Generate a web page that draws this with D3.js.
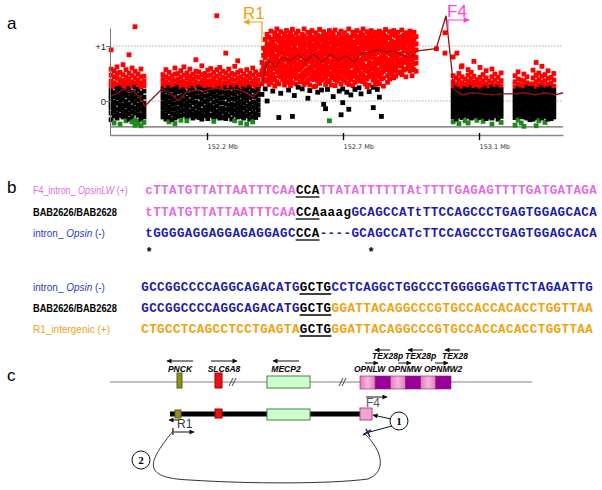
<!DOCTYPE html>
<html lang="en">
<head>
<meta charset="UTF-8">
<title>breakpoint figure</title>
<script src="https://cdn.jsdelivr.net/npm/d3@7"></script>
<style>
    body{ margin:0; background:#fff; }
    svg{ display:block; font-family: Arial, "Liberation Sans", sans-serif; }
    .seq{ font-family: "Liberation Mono", "Courier New", monospace; font-weight:bold; font-size:12.5px; }
    .gene{ font-size:8.5px; font-weight:bold; font-style:italic; }
</style>
</head>
<body>
<svg id="fig" width="602" height="490"></svg>
<script>
// ---------- panel a data ----------
const tickMb = [152.2, 152.7, 153.1];
const yTicks = [0, 1];
// [position (Mb), log2 ratios x100 of the probes at that position]
const probes1 = [
  [151.847,[93,58,47,36,28,19,11,4,-5,-13,-22,-34]],
  [151.858,[55,44,33,26,15,8,-2,-10,-18,-27,-40]],
  [151.869,[62,50,41,30,22,13,6,-4,-15,-24,-31]],
  [151.880,[52,39,31,24,17,9,1,-8,-16,-26,-42]],
  [151.891,[66,48,37,29,20,12,3,-7,-12,-21,-29]],
  [151.902,[57,43,34,27,18,10,-1,-9,-19,-28,-36]],
  [151.913,[84,51,40,31,23,14,5,-6,-14,-23,-33]],
  [151.924,[60,46,35,27,16,8,0,-11,-20,-30,-38]],
  [151.935,[135,54,42,32,25,15,6,-3,-13,-22,-35,-44]],
  [151.946,[49,38,30,21,11,2,-8,-17,-26,-37,-41]],
  [151.957,[58,44,33,26,14,4,-6,-15,-25,-33,-45]],
  [151.968,[45,36,28,18,7,-4,-13,-21,-29,-39]]
];
const probes2 = [
  [152.038,[48,39,30,22,13,5,-4,-12,-21,-29]],
  [152.049,[57,44,35,27,19,9,1,-8,-17,-26,-33]],
  [152.060,[52,41,31,24,16,7,-2,-11,-19,-30,-38]],
  [152.071,[46,37,28,20,10,3,-6,-15,-24,-34]],
  [152.082,[60,49,38,29,22,14,4,-5,-14,-23,-31,-41]],
  [152.093,[50,40,32,25,17,6,-3,-13,-22,-28]],
  [152.104,[55,43,34,26,18,8,-1,-9,-18,-27,-35]],
  [152.115,[62,47,36,28,21,12,2,-7,-16,-25]],
  [152.126,[51,42,33,26,15,5,-4,-12,-21,-29,-36]],
  [152.137,[58,45,37,29,20,11,0,-9,-19,-26]],
  [152.148,[49,40,31,23,14,6,-3,-14,-23,-31]],
  [152.159,[75,54,44,35,27,17,8,-2,-10,-20,-28]],
  [152.170,[53,43,32,25,16,7,-5,-13,-22,-30]],
  [152.181,[64,48,38,30,22,12,3,-6,-17,-25,-33]],
  [152.192,[50,41,33,27,19,9,-1,-11,-18,-27]],
  [152.203,[56,46,36,28,20,10,1,-8,-16,-24,-32]],
  [152.214,[59,47,37,30,21,13,4,-7,-15,-26]],
  [152.225,[52,42,34,26,17,8,-2,-12,-21,-29,-37]],
  [152.236,[155,57,45,35,27,18,9,0,-9,-19,-28]],
  [152.247,[61,49,39,31,23,14,5,-4,-14,-23,-31]],
  [152.258,[54,43,33,26,16,6,-3,-13,-20,-30]],
  [152.269,[87,51,41,32,24,15,7,-5,-15,-24,-32]],
  [152.280,[58,46,36,28,19,11,2,-8,-17,-27]],
  [152.291,[50,40,31,24,14,4,-6,-14,-22,-33]],
  [152.302,[63,48,38,29,21,12,3,-7,-16,-25,-36]],
  [152.313,[73,52,42,33,25,16,6,-3,-12,-21,-29]],
  [152.324,[55,44,35,27,18,9,-1,-10,-19,-28,-40]],
  [152.335,[49,39,30,22,13,5,-4,-13,-23,-31]],
  [152.346,[57,45,36,28,20,10,1,-9,-18,-27,-42]],
  [152.357,[51,42,32,25,15,6,-5,-14,-24,-33]],
  [152.368,[60,47,37,29,19,8,-2,-11,-20,-29,-38]],
  [152.379,[53,41,33,26,17,7,-3,-12,-22,-30]],
  [152.388,[48,38,29,21,12,2,-7,-16,-25]]
];
const probes3 = [
  [152.402,[70,55,47,31,12]],
  [152.408,[96,83,66,58,40]],
  [152.414,[112,90,79,63,49,36,22]],
  [152.421,[121,104,99,84,69,64,51,38,0]],
  [152.428,[116,97,88,73,57,45,30]],
  [152.435,[127,112,103,91,80,62,54,41,33]],
  [152.442,[108,95,86,74,66,48,39,18]],
  [152.449,[124,117,101,93,79,71,59,42,27]],
  [152.457,[131,112,98,82,76,60,53,35]],
  [152.464,[119,109,92,85,68,57,46,31,-30]],
  [152.471,[126,114,104,96,87,73,62,50,44,14]],
  [152.478,[110,99,90,78,65,55,39]],
  [152.485,[122,116,101,83,74,61,48,36,29]],
  [152.492,[128,107,95,89,77,64,52,43]],
  [152.500,[118,111,100,86,70,58,47,34,20]],
  [152.507,[125,104,94,81,75,63,51,40,28]],
  [152.514,[130,117,108,92,84,69,56,45,33,-28]],
  [152.521,[113,102,97,80,72,60,48,10]],
  [152.528,[123,110,93,87,76,67,53,41,31]],
  [152.535,[127,115,105,90,79,65,57,44,25]],
  [152.543,[109,99,88,83,71,59,46,35]],
  [152.550,[121,112,103,94,82,70,62,50,38,22]],
  [152.557,[131,118,106,97,85,74,66,52,43,30]],
  [152.564,[114,101,91,78,68,55,47,33]],
  [152.571,[125,113,104,89,80,72,58,49,37,5]],
  [152.578,[120,108,96,87,75,61,54,40,29,19]],
  [152.586,[128,116,100,92,83,69,57,45]],
  [152.593,[111,102,94,81,73,63,50,39,26]],
  [152.600,[124,115,107,95,86,76,64,53,42,27]],
  [152.607,[119,105,98,84,70,60,47,36,16]],
  [152.614,[130,117,109,99,88,79,66,55,44,32]],
  [152.621,[112,100,93,81,72,58,49,38,20]],
  [152.629,[126,118,103,96,85,74,63,51,40,-6]],
  [152.636,[121,110,101,89,77,67,56,44,30,-14]],
  [152.643,[115,104,97,86,75,61,52,35,21]],
  [152.650,[128,119,106,94,83,71,60,48,37,-36]],
  [152.657,[117,108,96,88,73,64,50,42,29]],
  [152.664,[124,113,100,91,81,69,58,45,8]],
  [152.671,[129,116,105,97,86,77,65,54,39,28]],
  [152.678,[113,102,92,80,70,61,47,36]],
  [152.686,[122,111,104,93,84,72,63,52,41,18]],
  [152.693,[127,117,108,98,89,78,67,55,44,31,-25]],
  [152.699,[115,106,95,85,76,64,53,40,22,-3]],
  [152.705,[124,109,103,90,83,70,61,49,37]],
  [152.711,[119,111,97,88,77,69,55,46,33,16]],
  [152.717,[131,116,104,99,85,78,62,53,42,30,-15]],
  [152.723,[112,104,92,86,71,64,50,39,11]],
  [152.729,[125,118,101,95,82,74,67,52,45,28]],
  [152.735,[120,107,100,87,80,66,57,48,34,21]],
  [152.741,[128,114,106,94,84,72,61,54,41]],
  [152.747,[117,110,96,90,75,70,56,44,36,24]],
  [152.753,[124,115,102,93,87,73,65,50,39,13]],
  [152.759,[131,120,108,98,91,79,68,60,47,35]],
  [152.765,[116,104,97,83,77,62,56,43,31]],
  [152.771,[126,112,105,95,82,76,63,54,40,26]],
  [152.777,[121,116,99,92,84,71,66,51,44,29,17]],
  [152.783,[128,113,107,96,88,80,69,58,46]],
  [152.789,[119,108,101,86,79,67,61,49,38,25,-12]],
  [152.795,[125,117,103,94,85,74,64,55,42,30]],
  [152.801,[114,107,98,88,76,70,57,47,35,21]],
  [152.807,[127,119,106,95,89,77,68,53,45,31,7]],
  [152.813,[120,110,99,93,80,72,62,51,40,-28]],
  [152.819,[124,113,105,91,83,74,66,54,42,27]],
  [152.825,[130,118,109,97,87,78,64,57]],
  [152.831,[115,104,96,89,75,67,59,46,34]],
  [152.837,[126,116,101,94,86,73,65,52,40]],
  [152.843,[121,109,102,88,81,71,60,49]],
  [152.849,[128,120,107,96,84,77,63,55,42]],
  [152.855,[118,106,100,90,78,68,57,45]],
  [152.861,[125,114,103,95,83,72,64,51]],
  [152.867,[116,108,97,85,74,67,53]],
  [152.873,[129,117,106,98,86,76,63,48]],
  [152.879,[120,111,99,91,78,70,56]],
  [152.885,[124,113,104,92,80,71,58,44]],
  [152.891,[119,108,95,86,73,64]],
  [152.897,[127,115,102,90,79,66,55]],
  [152.903,[121,110,98,84,75,61,46]],
  [152.909,[125,112,103,92,81,68,57]],
  [152.915,[117,104,93,79,69,54]]
];
const probes4 = [
  [153.024,[80,46,35,27,19,11,3,-5,-13,-21,-29,-38]],
  [153.033,[42,31,24,16,8,0,-8,-16,-24,-33]],
  [153.041,[50,38,29,21,13,5,-3,-11,-19,-27,-41]],
  [153.050,[64,44,33,26,18,10,2,-6,-14,-22,-30]],
  [153.059,[40,30,22,14,6,-2,-10,-18,-26,-36]],
  [153.068,[57,47,36,28,20,12,4,-4,-12,-20,-28,-40]],
  [153.077,[52,41,32,25,17,9,1,-7,-15,-23,-31]],
  [153.085,[72,45,34,27,19,11,3,-5,-13,-21,-29]],
  [153.094,[39,30,21,13,5,-3,-11,-19,-27,-35]],
  [153.103,[61,43,33,26,18,10,2,-6,-14,-22,-30]],
  [153.112,[48,37,28,20,12,4,-4,-12,-20,-28,-37]],
  [153.121,[55,42,31,24,16,8,0,-8,-16,-24,-32]],
  [153.129,[36,27,19,11,3,-5,-13,-21,-29]],
  [153.138,[58,44,33,25,17,9,1,-7,-15,-23,-31,-42]],
  [153.147,[49,38,29,21,13,5,-3,-11,-19,-27]],
  [153.156,[43,32,24,16,8,0,-8,-16,-24,-33]],
  [153.165,[51,37,28,20,12,4,-4,-12,-20,-28,-39]]
];
const probes5 = [
  [153.206,[46,35,26,18,10,2,-6,-14,-22,-30,-44]],
  [153.215,[53,40,30,22,14,6,-2,-10,-18,-26,-35]],
  [153.224,[38,28,20,12,4,-4,-12,-20,-28,-40]],
  [153.232,[49,36,27,19,11,3,-5,-13,-21,-29,-46]],
  [153.241,[44,33,25,17,9,1,-7,-15,-23,-31]],
  [153.250,[31,23,15,7,-1,-9,-17,-25,-34]],
  [153.259,[56,42,31,23,15,7,-1,-9,-17,-25,-33]],
  [153.268,[70,47,35,26,18,10,2,-6,-14,-22,-30,-45]],
  [153.276,[51,39,29,21,13,5,-3,-11,-19,-27,-36]],
  [153.285,[63,45,34,25,17,9,1,-7,-15,-23,-31]],
  [153.294,[48,37,28,20,12,4,-4,-12,-20,-28,-39]],
  [153.303,[55,41,30,22,14,6,-2,-10,-18,-26,-33]],
  [153.312,[43,32,24,16,8,0,-8,-16,-24,-32]],
  [153.320,[50,38,27,19,11,3,-5,-13,-21,-29]]
];
const outliers = [[152.975,[95]], [153.000,[124,87]], [153.035,[87]], [153.048,[62]]];
// moving average (log2 ratio)
const trend = [
  [151.847,0.09],[151.872,0.15],[151.894,0.22],[151.913,0.15],[151.931,0.18],[151.953,0.05],[151.972,-0.09],
  [152.035,0.22],[152.064,0.15],[152.094,0.0],[152.123,0.16],[152.156,0.20],[152.193,0.18],[152.229,0.24],
  [152.266,0.20],[152.303,0.22],[152.340,0.16],[152.369,0.07],[152.388,0.16],[152.403,0.35],[152.417,0.64],
  [152.432,0.71],[152.454,0.64],[152.476,0.80],[152.505,0.73],[152.535,0.84],[152.564,0.73],[152.593,0.85],
  [152.623,0.71],[152.652,0.85],[152.682,0.75],[152.709,0.82],[152.732,0.71],[152.756,0.87],[152.779,0.89],
  [152.803,0.93],[152.826,0.89],[152.850,0.91],[152.874,0.84],[152.897,0.78],[152.918,0.91],[152.974,0.95],
  [153.003,1.55],[153.026,0.22],[153.050,0.11],[153.079,0.15],[153.109,0.13],[153.138,0.11],[153.168,0.13],
  [153.206,0.13],[153.235,0.15],[153.265,0.11],[153.294,0.15],[153.324,0.11],[153.347,0.15]
];

// ---------- panel b data ----------
const rowNames1 = [["F4_intron_ ","OpsinLW"," (+)"], ["BAB2626/BAB2628"], ["intron_ ","Opsin"," (-)"]];
const rowNames2 = [["intron_ ","Opsin"," (-)"], ["BAB2626/BAB2628"], ["R1_intergenic (+)"]];
const rowKind1 = ["F4", "BAB", "opsin"];
const rowKind2 = ["opsin", "BAB", "R1"];
const seqBlock1 = [
  "cTTATGTTATTAATTTCAACCATTATATTTTTTAtTTTTGAGAGTTTTGATGATAGA",
  "tTTATGTTATTAATTTCAACCAaaagGCAGCCATtTTCCAGCCCTGAGTGGAGCACA",
  "tGGGGAGGAGGAGAGGAGCCCA----GCAGCCATcTTCCAGCCCTGAGTGGAGCACA"
];
const seqBlock2 = [
  "GCCGGCCCCAGGCAGACATGGCTGCCTCAGGCTGGCCCTGGGGGAGTTCTAGAATTG",
  "GCCGGCCCCAGGCAGACATGGCTGGGATTACAGGCCCGTGCCACCACACCTGGTTAA",
  "CTGCCTCAGCCTCCTGAGTAGCTGGGATTACAGGCCCGTGCCACCACACCTGGTTAA"
];
// origin of each stretch of bases: [length, source]
const origin1 = [
  [[19,"F4"],[3,"junction"],[35,"F4"]],
  [[19,"F4"],[7,"junction"],[31,"opsin"]],
  [[19,"opsin"],[3,"junction"],[35,"opsin"]]
];
const origin2 = [
  [[20,"opsin"],[4,"junction"],[33,"opsin"]],
  [[20,"opsin"],[4,"junction"],[33,"R1"]],
  [[20,"R1"],[4,"junction"],[33,"R1"]]
];
const homology1 = [19, 22];   // CCA
const homology2 = [20, 24];   // GCTG
const starCols = [0, 28];

// ---------- panel c data ----------
const topGenes = ["PNCK", "SLC6A8", "MECP2"];
const geneStrand = [-1, 1, -1];
const texLabels = ["TEX28p", "TEX28p", "TEX28"];
const opnLabels = ["OPNLW", "OPNMW", "OPNMW2"];

// ---------- drawing ----------
const svg = d3.select("#fig");
svg.append("rect").attr("width", 602).attr("height", 490).attr("fill", "#fff");
const defs = svg.append("defs");
function marker(id, color, w, h){
    defs.append("marker").attr("id", id)
        .attr("viewBox", "0 0 10 10").attr("refX", 9).attr("refY", 5)
        .attr("markerWidth", w).attr("markerHeight", h)
        .attr("markerUnits", "userSpaceOnUse")
        .attr("orient", "auto-start-reverse")
        .append("path").attr("d", "M0,0 L10,5 L0,10 Z").attr("fill", color);
}
marker("ahO", "#f0a20c", 7, 6);
marker("ahM", "#ff40d8", 7, 6);
marker("ahK", "#111", 6, 5);

const PINK = "#e36be3", BLUE = "#1c1ca8", ORANGE = "#f0a20c";
const srcColor = {F4: PINK, opsin: BLUE, R1: ORANGE, junction: "#000"};

// panel letters
[["a", 29], ["b", 193], ["c", 381]].forEach(([t, y]) =>
    svg.append("text").attr("x", 7).attr("y", y).attr("font-size", 17).text(t));

// ===== panel a =====
const x = d3.scaleLinear().domain([151.843, 152.2, 152.7, 153.1, 153.347]).range([110, 207, 343, 479, 563]);
const y = d3.scaleLinear().domain([-0.618, 1.327]).range([135, 28]);
const ga = svg.append("g");

ga.selectAll(".grid").data(yTicks).join("line")
    .attr("x1", 110).attr("x2", 563).attr("y1", d => y(d)).attr("y2", d => y(d))
    .attr("stroke", "#aaa").attr("stroke-dasharray", "1.5,1.5");
ga.append("line").attr("x1", 110).attr("x2", 563).attr("y1", y(-0.47)).attr("y2", y(-0.47))
    .attr("stroke", "#666").attr("stroke-width", 1.2);

const points = [...probes1, ...probes2, ...probes3, ...outliers, ...probes4, ...probes5]
    .flatMap(([mb, vs]) => vs.map(v => ({mb, v: v / 100})));
const ptColor = v => v > 0.25 ? "#ff0000" : (v < -0.34 ? "#1d8a1d" : "#000");
const PT = 4.8;
ga.selectAll(".pt").data(points).join("rect")
    .attr("x", d => x(d.mb) - PT / 2).attr("y", d => y(d.v) - PT / 2)
    .attr("width", PT).attr("height", PT)
    .attr("fill", d => ptColor(d.v));

ga.append("path").datum(trend)
    .attr("d", d3.line().x(d => x(d[0])).y(d => y(d[1])))
    .attr("fill", "none").attr("stroke", "#931010").attr("stroke-width", 1.3);

const yAxis = ga.append("g").attr("transform", "translate(110,0)")
    .call(d3.axisLeft(y).tickValues(yTicks).tickFormat(d => d ? "+1" : "0").tickSize(4).tickSizeOuter(0));
yAxis.select(".domain").attr("stroke", "#777");
yAxis.selectAll(".tick line").attr("stroke", "#777");
yAxis.selectAll(".tick text").attr("font-size", 9.5).attr("font-family", "Arial, sans-serif").attr("x", -4).attr("fill", "#222");

const xAxis = ga.append("g").attr("transform", "translate(0,135)")
    .call(d3.axisBottom(x).tickValues(tickMb).tickFormat(d => d + " Mb").tickSizeOuter(0));
xAxis.select(".domain").attr("stroke", "#888").attr("stroke-width", 1.4);
xAxis.selectAll(".tick line").attr("y1", -2).attr("y2", 5).attr("stroke", "#000").attr("stroke-width", 1.4);
xAxis.selectAll(".tick text").attr("font-size", 6.5).attr("font-family", "DejaVu Sans, sans-serif")
    .attr("text-anchor", "start").attr("x", 0).attr("y", 9).attr("fill", "#333");

// R1 / F4 primer flags
ga.append("text").attr("x", 243).attr("y", 19).attr("font-size", 17).attr("fill", ORANGE).text("R1");
ga.append("path").attr("d", "M262,43 V22 H244").attr("fill", "none").attr("stroke", ORANGE)
    .attr("stroke-width", 1.2).attr("marker-end", "url(#ahO)");
ga.append("text").attr("x", 447).attr("y", 17).attr("font-size", 17).attr("fill", "#ff40d8").text("F4");
ga.append("path").attr("d", "M448,30 V20 H469").attr("fill", "none").attr("stroke", "#ff40d8")
    .attr("stroke-width", 1.2).attr("marker-end", "url(#ahM)");

// ===== panel b =====
// row name, squeezed horizontally to the width it has in the figure
function nameText(g, parts, kind, len, xx, yy){
    const holder = g.append("g").attr("transform", `translate(${xx},${yy})`);
    const t = holder.append("text");
    if (kind === "BAB") {
        t.attr("font-weight", "bold").attr("font-size", 10.5).attr("fill", "#000").text(parts[0]);
    } else {
        t.attr("font-size", 10).attr("fill", srcColor[kind] === BLUE ? "#2b3cc0" : srcColor[kind]);
        parts.forEach((p, i) => t.append("tspan").attr("font-style", i === 1 ? "italic" : null).text(p));
    }
    const w = t.node().getComputedTextLength();
    holder.attr("transform", `translate(${xx},${yy}) scale(${Math.min(1, len / w)},1)`);
}
function seqBlock(seqs, origins, names, kinds, lens, homol, x0, ys){
    const g = svg.append("g");
    const col = d3.scaleLinear().domain([0, 57]).range([x0, x0 + 57 * 7.93]);
    seqs.forEach((s, r) => {
        nameText(g, names[r], kinds[r], lens[r], 33, ys[r]);
        const src = origins[r].flatMap(([n, k]) => d3.range(n).map(() => k));
        g.selectAll(null).data(s.split("")).join("text")
            .attr("class", "seq")
            .attr("x", (c, i) => col(i + 0.5)).attr("y", ys[r])
            .attr("text-anchor", "middle")
            .attr("fill", (c, i) => srcColor[src[i]])
            .text(c => c);
        g.append("line").attr("x1", col(homol[0])).attr("x2", col(homol[1]))
            .attr("y1", ys[r] + 3).attr("y2", ys[r] + 3).attr("stroke", "#000").attr("stroke-width", 1.3);
    });
    return col;
}
const col1 = seqBlock(seqBlock1, origin1, rowNames1, rowKind1, [95, 84, 72], homology1, 145, [194, 216, 237]);
svg.selectAll(".star").data(starCols).join("text")
    .attr("x", d => col1(d + 0.5)).attr("y", 256).attr("text-anchor", "middle")
    .attr("font-size", 12).attr("font-weight", "bold").text("*");
seqBlock(seqBlock2, origin2, rowNames2, rowKind2, [72, 84, 78], homology2, 141, [291, 312, 333]);

// ===== panel c =====
const gc = svg.append("g");
gc.append("line").attr("x1", 110).attr("x2", 532).attr("y1", 382).attr("y2", 382).attr("stroke", "#808080");
[233, 343].forEach(bx => [0, 3].forEach(o =>
    gc.append("line").attr("x1", bx - 4 + o).attr("y1", 386).attr("x2", bx + o).attr("y2", 378)
      .attr("stroke", "#444").attr("stroke-width", 1)));

const geneBox = [
    {x: 177, y: 373, w: 5, h: 15, fill: "#8e8e22", stroke: "#5f5f14", ax: 180, bx: 175, by: 410, bw: 6, bh: 8},
    {x: 215, y: 373, w: 7, h: 15, fill: "#ee1111", stroke: "#a00000", ax: 224, bx: 215, by: 409, bw: 7, bh: 9},
    {x: 267, y: 376, w: 43, h: 12, fill: "#ccffcc", stroke: "#4c7a4c", ax: 286, bx: 267, by: 409, bw: 43, bh: 11}
];
// bottom (rearranged) chromosome line
gc.append("line").attr("x1", 170).attr("x2", 362).attr("y1", 414).attr("y2", 414).attr("stroke", "#000").attr("stroke-width", 5);

topGenes.forEach((name, i) => {
    const b = geneBox[i];
    gc.append("rect").attr("x", b.x).attr("y", b.y).attr("width", b.w).attr("height", b.h)
        .attr("fill", b.fill).attr("stroke", b.stroke);
    gc.append("rect").attr("x", b.bx).attr("y", b.by).attr("width", b.bw).attr("height", b.bh)
        .attr("fill", b.fill).attr("stroke", b.stroke);
    gc.append("text").attr("class", "gene").attr("x", b.ax).attr("y", 372).attr("text-anchor", "middle").text(name);
    const a0 = b.ax - 13, a1 = b.ax + 13;
    gc.append("line").attr("x1", geneStrand[i] > 0 ? a0 : a1).attr("x2", geneStrand[i] > 0 ? a1 : a0)
        .attr("y1", 361).attr("y2", 361).attr("stroke", "#111").attr("marker-end", "url(#ahK)");
});

// opsin array
const pinkGrad = defs.append("linearGradient").attr("id", "pg").attr("x1", 0).attr("x2", 1);
pinkGrad.append("stop").attr("offset", "0").attr("stop-color", "#e77ab8");
pinkGrad.append("stop").attr("offset", "0.5").attr("stop-color", "#f7b6dc");
pinkGrad.append("stop").attr("offset", "1").attr("stop-color", "#e77ab8");
const opsX = d3.scaleLinear().domain([0, 6]).range([360, 451]);
gc.selectAll(".ops").data(d3.range(6)).join("rect")
    .attr("x", d => opsX(d)).attr("y", 376).attr("width", opsX(1) - opsX(0)).attr("height", 13)
    .attr("fill", d => d % 2 ? "#990099" : "url(#pg)").attr("stroke", "#7a2a6a").attr("stroke-width", 0.6);
const texX = [372, 405, 442], opnX = [354, 388, 424];
texLabels.forEach((t, i) => {
    gc.append("text").attr("class", "gene").attr("x", texX[i]).attr("y", 359).text(t);
    gc.append("line").attr("x1", texX[i] + 18).attr("x2", texX[i] + 3).attr("y1", 350).attr("y2", 350)
        .attr("stroke", "#111").attr("marker-end", "url(#ahK)");
    gc.append("line").attr("x1", texX[i] - 7).attr("x2", texX[i] + 6).attr("y1", 363).attr("y2", 363)
        .attr("stroke", "#111").attr("marker-end", "url(#ahK)");
});
opnLabels.forEach((t, i) =>
    gc.append("text").attr("class", "gene").attr("x", opnX[i]).attr("y", 372).text(t));

// F4 box + primers on rearranged line
gc.append("rect").attr("x", 360).attr("y", 408).attr("width", 12).attr("height", 12)
    .attr("fill", "#f4a2d0").attr("stroke", "#a0507e");
gc.append("text").attr("x", 366).attr("y", 407).attr("font-size", 12).attr("fill", "#555").text("F4");
gc.append("line").attr("x1", 366).attr("x2", 387).attr("y1", 397).attr("y2", 397)
    .attr("stroke", "#111").attr("marker-end", "url(#ahK)");
gc.append("text").attr("x", 177).attr("y", 428).attr("font-size", 12).attr("fill", "#333").text("R1");
gc.append("line").attr("x1", 178).attr("x2", 169).attr("y1", 420).attr("y2", 420)
    .attr("stroke", "#111").attr("marker-end", "url(#ahK)");
gc.append("line").attr("x1", 174).attr("x2", 194).attr("y1", 432).attr("y2", 432)
    .attr("stroke", "#111").attr("marker-end", "url(#ahK)");
gc.append("line").attr("x1", 173).attr("x2", 173).attr("y1", 428).attr("y2", 435).attr("stroke", "#7a2a10").attr("stroke-width", 1.5);

// junction loop
gc.append("path")
    .attr("d", "M173,431 C150,460 138,478 190,480 C250,484 330,484 368,479 C386,472 384,452 364,433")
    .attr("fill", "none").attr("stroke", "#333").attr("stroke-width", 1);
gc.append("line").attr("x1", 391).attr("y1", 419).attr("x2", 373).attr("y2", 415)
    .attr("stroke", "#111").attr("marker-end", "url(#ahK)");
gc.append("line").attr("x1", 392).attr("y1", 426).attr("x2", 366).attr("y2", 433).attr("stroke", "#111");
gc.append("path").attr("d", "M366,429 L370,437 M363,435 L371,430").attr("stroke", "#1c1c6a").attr("stroke-width", 1.5);

[[399, 421, "1"], [141, 460, "2"]].forEach(([cx, cy, t]) => {
    gc.append("circle").attr("cx", cx).attr("cy", cy).attr("r", 9).attr("fill", "#fff").attr("stroke", "#111");
    gc.append("text").attr("x", cx).attr("y", cy + 4).attr("text-anchor", "middle")
        .attr("font-family", "Liberation Serif, serif").attr("font-weight", "bold").attr("font-size", 11).text(t);
});
</script>
</body>
</html>
